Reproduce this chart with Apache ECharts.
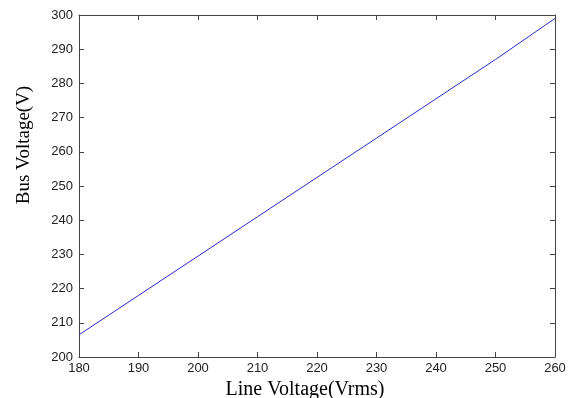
<!DOCTYPE html>
<html>
<head>
<meta charset="utf-8">
<script src="https://cdn.jsdelivr.net/npm/echarts@6/dist/echarts.min.js"></script>
<style>
  html, body { margin: 0; padding: 0; background: #fff; }
  #chart { width: 571px; height: 398px; }
</style>
</head>
<body>
<div id="chart"></div>
<script>
// line voltage (Vrms) vs bus voltage (V)
const lineVoltage = [180, 190, 200, 210, 220, 230, 240, 250, 260];
const busVoltage = [206.5, 218, 229.5, 241, 252.5, 264, 275.5, 287, 299];

const tickFont = { fontFamily: "Liberation Sans, Arial, sans-serif", fontSize: 13, color: "#222" };
const serif = "Liberation Serif, Times New Roman, serif";
const axisLine = { show: true, lineStyle: { color: "#444", width: 1 } };
const tick = { show: true, inside: true, length: 5, lineStyle: { color: "#444" } };

let chart = echarts.init(document.getElementById("chart"), null, { renderer: "canvas" });

chart.setOption({
  animation: false,
  grid: { left: 79, right: 16, top: 15, bottom: 41, containLabel: false, outerBoundsMode: "none" },
  xAxis: [
    {
      type: "value", min: 180, max: 260, interval: 10,
      name: "Line Voltage(Vrms)", nameLocation: "middle", nameGap: 20,
      nameTextStyle: { fontFamily: serif, fontSize: 20, color: "#000", padding: [0, 24, 0, 0] },
      axisLabel: Object.assign({ margin: 5 }, tickFont),
      axisLine: axisLine, axisTick: tick, splitLine: { show: false }
    },
    {
      type: "value", position: "top", min: 180, max: 260, interval: 10,
      axisLabel: { show: false }, axisLine: axisLine, axisTick: tick, splitLine: { show: false }
    }
  ],
  yAxis: [
    {
      type: "value", min: 200, max: 300, interval: 10,
      name: "Bus Voltage(V)", nameLocation: "middle", nameGap: 45,
      nameTextStyle: { fontFamily: serif, fontSize: 19, color: "#000", padding: [0, 0, 0, 82] },
      axisLabel: Object.assign({ margin: 6 }, tickFont),
      axisLine: axisLine, axisTick: tick, splitLine: { show: false }
    },
    {
      type: "value", position: "right", min: 200, max: 300, interval: 10,
      axisLabel: { show: false }, axisLine: axisLine, axisTick: tick, splitLine: { show: false }
    }
  ],
  series: [
    {
      type: "line",
      data: lineVoltage.map((v, i) => [v, busVoltage[i]]),
      showSymbol: false,
      lineStyle: { color: "#2a2ac8", width: 1 },
      silent: true
    }
  ]
});

window.addEventListener("resize", () => {
  if (chart) {
    chart.resize();
  }
});
</script>
</body>
</html>
